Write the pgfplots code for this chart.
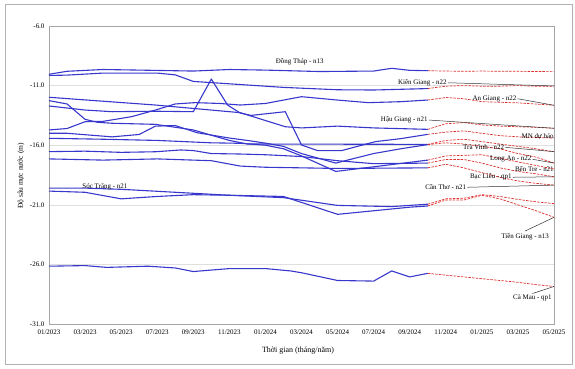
\documentclass[border=0pt]{standalone}
\usepackage{fontspec}
\setmainfont{Liberation Serif}
\usepackage{pgfplots}
\pgfplotsset{compat=1.18}
\definecolor{bl}{RGB}{55,55,205}
\definecolor{rd}{RGB}{225,45,45}
\tikzset{
  obs/.style={bl, line width=1.1bp, line join=round},
  fc/.style={rd, line width=0.7bp, dash pattern=on 2.5bp off 1.2bp, line join=round},
  lead/.style={black!80, line width=0.5bp},
  lab/.style={font=\fontsize{7}{8}\selectfont, inner sep=1bp},
}
\begin{document}
\begin{tikzpicture}[x=1bp,y=1bp]
\useasboundingbox (0,0) rectangle (575,368);
\draw[gray!60, line width=0.8bp] (5,4) rectangle (572,364);
\node[font=\fontsize{8}{9}\selectfont] at (298,17) {Thời gian (tháng/năm)};
\node[rotate=90, font=\fontsize{7.5}{9}\selectfont] at (21,192) {Độ sâu mực nước (m)};
\begin{axis}[at={(49bp,44bp)}, anchor=south west, scale only axis,
  width=505bp, height=298bp,
  xmin=0, xmax=28, ymin=-31, ymax=-6,
  xtick={0,2,...,28},
  xticklabels={01/2023,03/2023,05/2023,07/2023,09/2023,11/2023,01/2024,03/2024,05/2024,07/2024,09/2024,11/2024,01/2025,03/2025,05/2025},
  ytick={-31,-26,-21,-16,-11,-6},
  /pgf/number format/fixed,
  /pgf/number format/fixed zerofill,
  /pgf/number format/precision=1,
  /pgf/number format/assume math mode=true,
  ymajorgrids, grid style={gray!25, line width=0.6bp},
  axis line style={gray!70, line width=0.6bp},
  major tick length=0pt,
  tick label style={font=\fontsize{7}{8}\selectfont},
  yticklabel style={xshift=-1bp},
  xticklabel style={yshift=-2bp},
  clip=false,
]
% ---------- observed ----------
% Dong Thap
\addplot[obs] coordinates {(0,-10.05)(1,-9.8)(3,-9.65)(5,-9.7)(8,-9.78)(10,-9.65)(12,-9.7)(15,-9.82)(18,-9.78)(19,-9.55)(20,-9.72)(21,-9.75)};
% Kien Giang
\addplot[obs] coordinates {(0,-10.15)(1,-10.12)(3,-9.95)(6,-9.95)(7,-10.1)(8,-10.65)(9,-10.75)(11,-10.95)(13,-11.15)(16,-11.35)(18,-11.37)(21,-11.25)};
% An Giang
\addplot[obs] coordinates {(0,-14.72)(1,-14.6)(2,-14.03)(3,-14.0)(4.6,-13.6)(5.9,-13.05)(7,-12.54)(8.1,-12.43)(9.5,-12.5)(10.6,-12.63)(12,-12.5)(14,-11.93)(15.9,-12.2)(17.7,-12.43)(19.5,-12.35)(21,-12.21)};
% Hau Giang
\addplot[obs] coordinates {(0,-11.98)(5.9,-12.63)(10.6,-13.27)(13.1,-14.45)(14,-14.55)(16,-14.4)(18,-14.55)(21,-14.67)};
% spike series
\addplot[obs] coordinates {(0,-12.71)(2,-13.05)(3.5,-13.19)(5.9,-13.15)(8,-13.19)(9,-10.45)(9.9,-12.63)(10.6,-13.3)(11.2,-13.5)(13.1,-13.19)(14,-15.98)(14.9,-16.46)(16.2,-16.46)(18.1,-15.7)(19.5,-15.45)(21,-15.09)};
\addplot[obs] coordinates {(0,-12.26)(1,-12.54)(2,-13.83)(2.7,-14.08)(3.5,-14.16)(5.9,-14.25)(8,-14.72)(10,-15.6)(11,-15.9)(21,-15.93)};
\addplot[obs] coordinates {(0,-15.0)(1,-15.0)(3.5,-15.3)(5,-15.1)(5.9,-14.4)(7,-14.35)(8.2,-14.95)(10,-15.4)(11,-15.6)(12.1,-15.85)(13,-16.1)(14,-16.7)(15.9,-17.5)(18,-16.7)(19.5,-16.3)(21,-15.95)};
\addplot[obs] coordinates {(0,-15.42)(3,-15.5)(6,-15.6)(9,-15.8)(10.6,-15.84)(12,-16.0)(13,-16.3)(14,-16.9)(15.9,-18.2)(17.8,-17.85)(21,-17.25)};
\addplot[obs] coordinates {(0,-16.54)(2,-16.5)(4,-16.6)(5.9,-16.55)(7.3,-16.4)(8,-16.45)(9,-16.7)(10.6,-16.74)(12,-16.8)(14,-16.95)(16,-17.3)(18,-17.55)(21,-17.5)};
\addplot[obs] coordinates {(0,-17.15)(3,-17.25)(6,-17.15)(8,-17.25)(9,-17.3)(10.6,-17.75)(12,-17.85)(16,-17.95)(21,-17.9)};
% Soc Trang
\addplot[obs] coordinates {(0,-19.6)(2,-19.6)(4,-19.7)(7,-19.95)(10,-20.2)(13,-20.4)(16,-21.05)(19,-21.15)(21,-20.95)};
% Tien Giang
\addplot[obs] coordinates {(0,-19.85)(2,-19.95)(4,-20.5)(6,-20.3)(8,-20.15)(10,-20.2)(13,-20.3)(14.3,-20.95)(16,-21.8)(18,-21.5)(20,-21.2)(21,-21.1)};
% Ca Mau
\addplot[obs] coordinates {(0,-26.15)(2,-26.1)(3.2,-26.25)(5.5,-26.15)(7,-26.3)(8,-26.6)(10,-26.35)(12,-26.35)(13.4,-26.55)(14,-26.7)(16,-27.35)(18,-27.4)(19,-26.55)(20,-27.05)(21,-26.75)};
% ---------- forecast ----------
\addplot[fc] coordinates {(21,-9.75)(22,-9.78)(23,-9.8)(24,-9.78)(25,-9.8)(26,-9.8)(27,-9.82)(28,-9.83)};
\addplot[fc] coordinates {(21,-11.25)(22,-11.05)(23,-11.0)(24,-11.05)(25,-11.05)(26,-11.0)(27,-11.05)(28,-11.05)};
\addplot[fc] coordinates {(21,-12.21)(22,-12.0)(23,-12.1)(24,-12.35)(25,-12.4)(26,-12.45)(27,-12.55)(28,-12.65)};
\addplot[fc] coordinates {(21,-14.67)(22,-14.2)(23,-14.1)(24,-14.3)(25,-14.4)(26,-14.45)(27,-14.5)(28,-14.58)};
\addplot[fc] coordinates {(21,-15.09)(22,-14.9)(23,-14.8)(24,-15.0)(25,-15.2)(26,-15.3)(27,-15.35)(28,-15.4)};
\addplot[fc] coordinates {(21,-15.93)(22,-15.6)(23,-15.5)(24,-15.7)(25,-15.9)(26,-16.1)(27,-16.3)(28,-16.55)};
\addplot[fc] coordinates {(21,-15.95)(22,-15.8)(23,-15.9)(24,-16.1)(25,-16.3)(26,-16.7)(27,-17.0)(28,-17.5)};
\addplot[fc] coordinates {(21,-17.25)(22,-16.9)(23,-16.85)(24,-16.8)(25,-17.1)(26,-17.4)(27,-17.7)(28,-18.0)};
\addplot[fc] coordinates {(21,-17.5)(22,-17.2)(23,-17.2)(24,-17.5)(25,-17.9)(26,-18.2)(27,-18.4)(28,-18.65)};
\addplot[fc] coordinates {(21,-17.9)(22,-17.6)(23,-17.9)(24,-18.3)(25,-18.7)(26,-19.0)(27,-19.2)(28,-19.35)};
\addplot[fc] coordinates {(21,-20.95)(22,-20.5)(23,-20.45)(24,-20.15)(25,-20.3)(26,-20.55)(27,-20.75)(28,-20.9)};
\addplot[fc] coordinates {(21,-21.1)(22,-20.6)(23,-20.6)(24,-20.2)(25,-20.5)(26,-21.0)(27,-21.5)(28,-22.05)};
\addplot[fc] coordinates {(21,-26.75)(22,-26.9)(23,-27.05)(24,-27.2)(25,-27.35)(26,-27.5)(27,-27.7)(28,-27.85)};
% ---------- labels ----------
\node[lab] at (axis cs:13.9,-9.02) {Đồng Tháp - n13};
\node[lab] (kg) at (axis cs:20.7,-10.76) {Kiên Giang - n22};
\draw[lead] (kg.east) -- (axis cs:28,-11.03);
\node[lab] (ag) at (axis cs:24.7,-12.1) {An Giang - n22};
\draw[lead] (ag.east) -- (axis cs:28,-12.65);
\node[lab] (hg) at (axis cs:19.7,-13.89) {Hậu Giang - n21};
\draw[lead] (hg.east) -- (axis cs:28,-14.58);
\node[lab, anchor=east] at (axis cs:28.05,-15.29) {MN dự báo};
\node[lab] (tv) at (axis cs:24.1,-16.18) {Trà Vinh - n22};
\draw[lead] (tv.east) -- (axis cs:28,-16.54);
\node[lab] (la) at (axis cs:25.6,-17.18) {Long An - n22};
\draw[lead] (la.east) -- (axis cs:28,-17.5);
\node[lab, anchor=east] at (axis cs:28.05,-18.0) {Bến Tre - n21};
\node[lab] (bl) at (axis cs:24.5,-18.69) {Bạc Liêu - qp1};
\draw[lead] (bl.east) -- (axis cs:28,-18.65);
\node[lab] (ct) at (axis cs:22.0,-19.53) {Cần Thơ - n21};
\draw[lead] (ct.east) -- (axis cs:28,-19.35);
\node[lab] at (axis cs:3.1,-19.48) {Sóc Trăng - n21};
\node[lab] (tg) at (axis cs:26.4,-23.65) {Tiền Giang - n13};
\draw[lead] (axis cs:26.4,-23.2) -- (axis cs:28,-22.05);
\node[lab] (cm) at (axis cs:26.8,-28.8) {Cà Mau - qp1};
\draw[lead] (axis cs:26.8,-28.45) -- (axis cs:28,-27.85);
\end{axis}
\end{tikzpicture}
\end{document}
